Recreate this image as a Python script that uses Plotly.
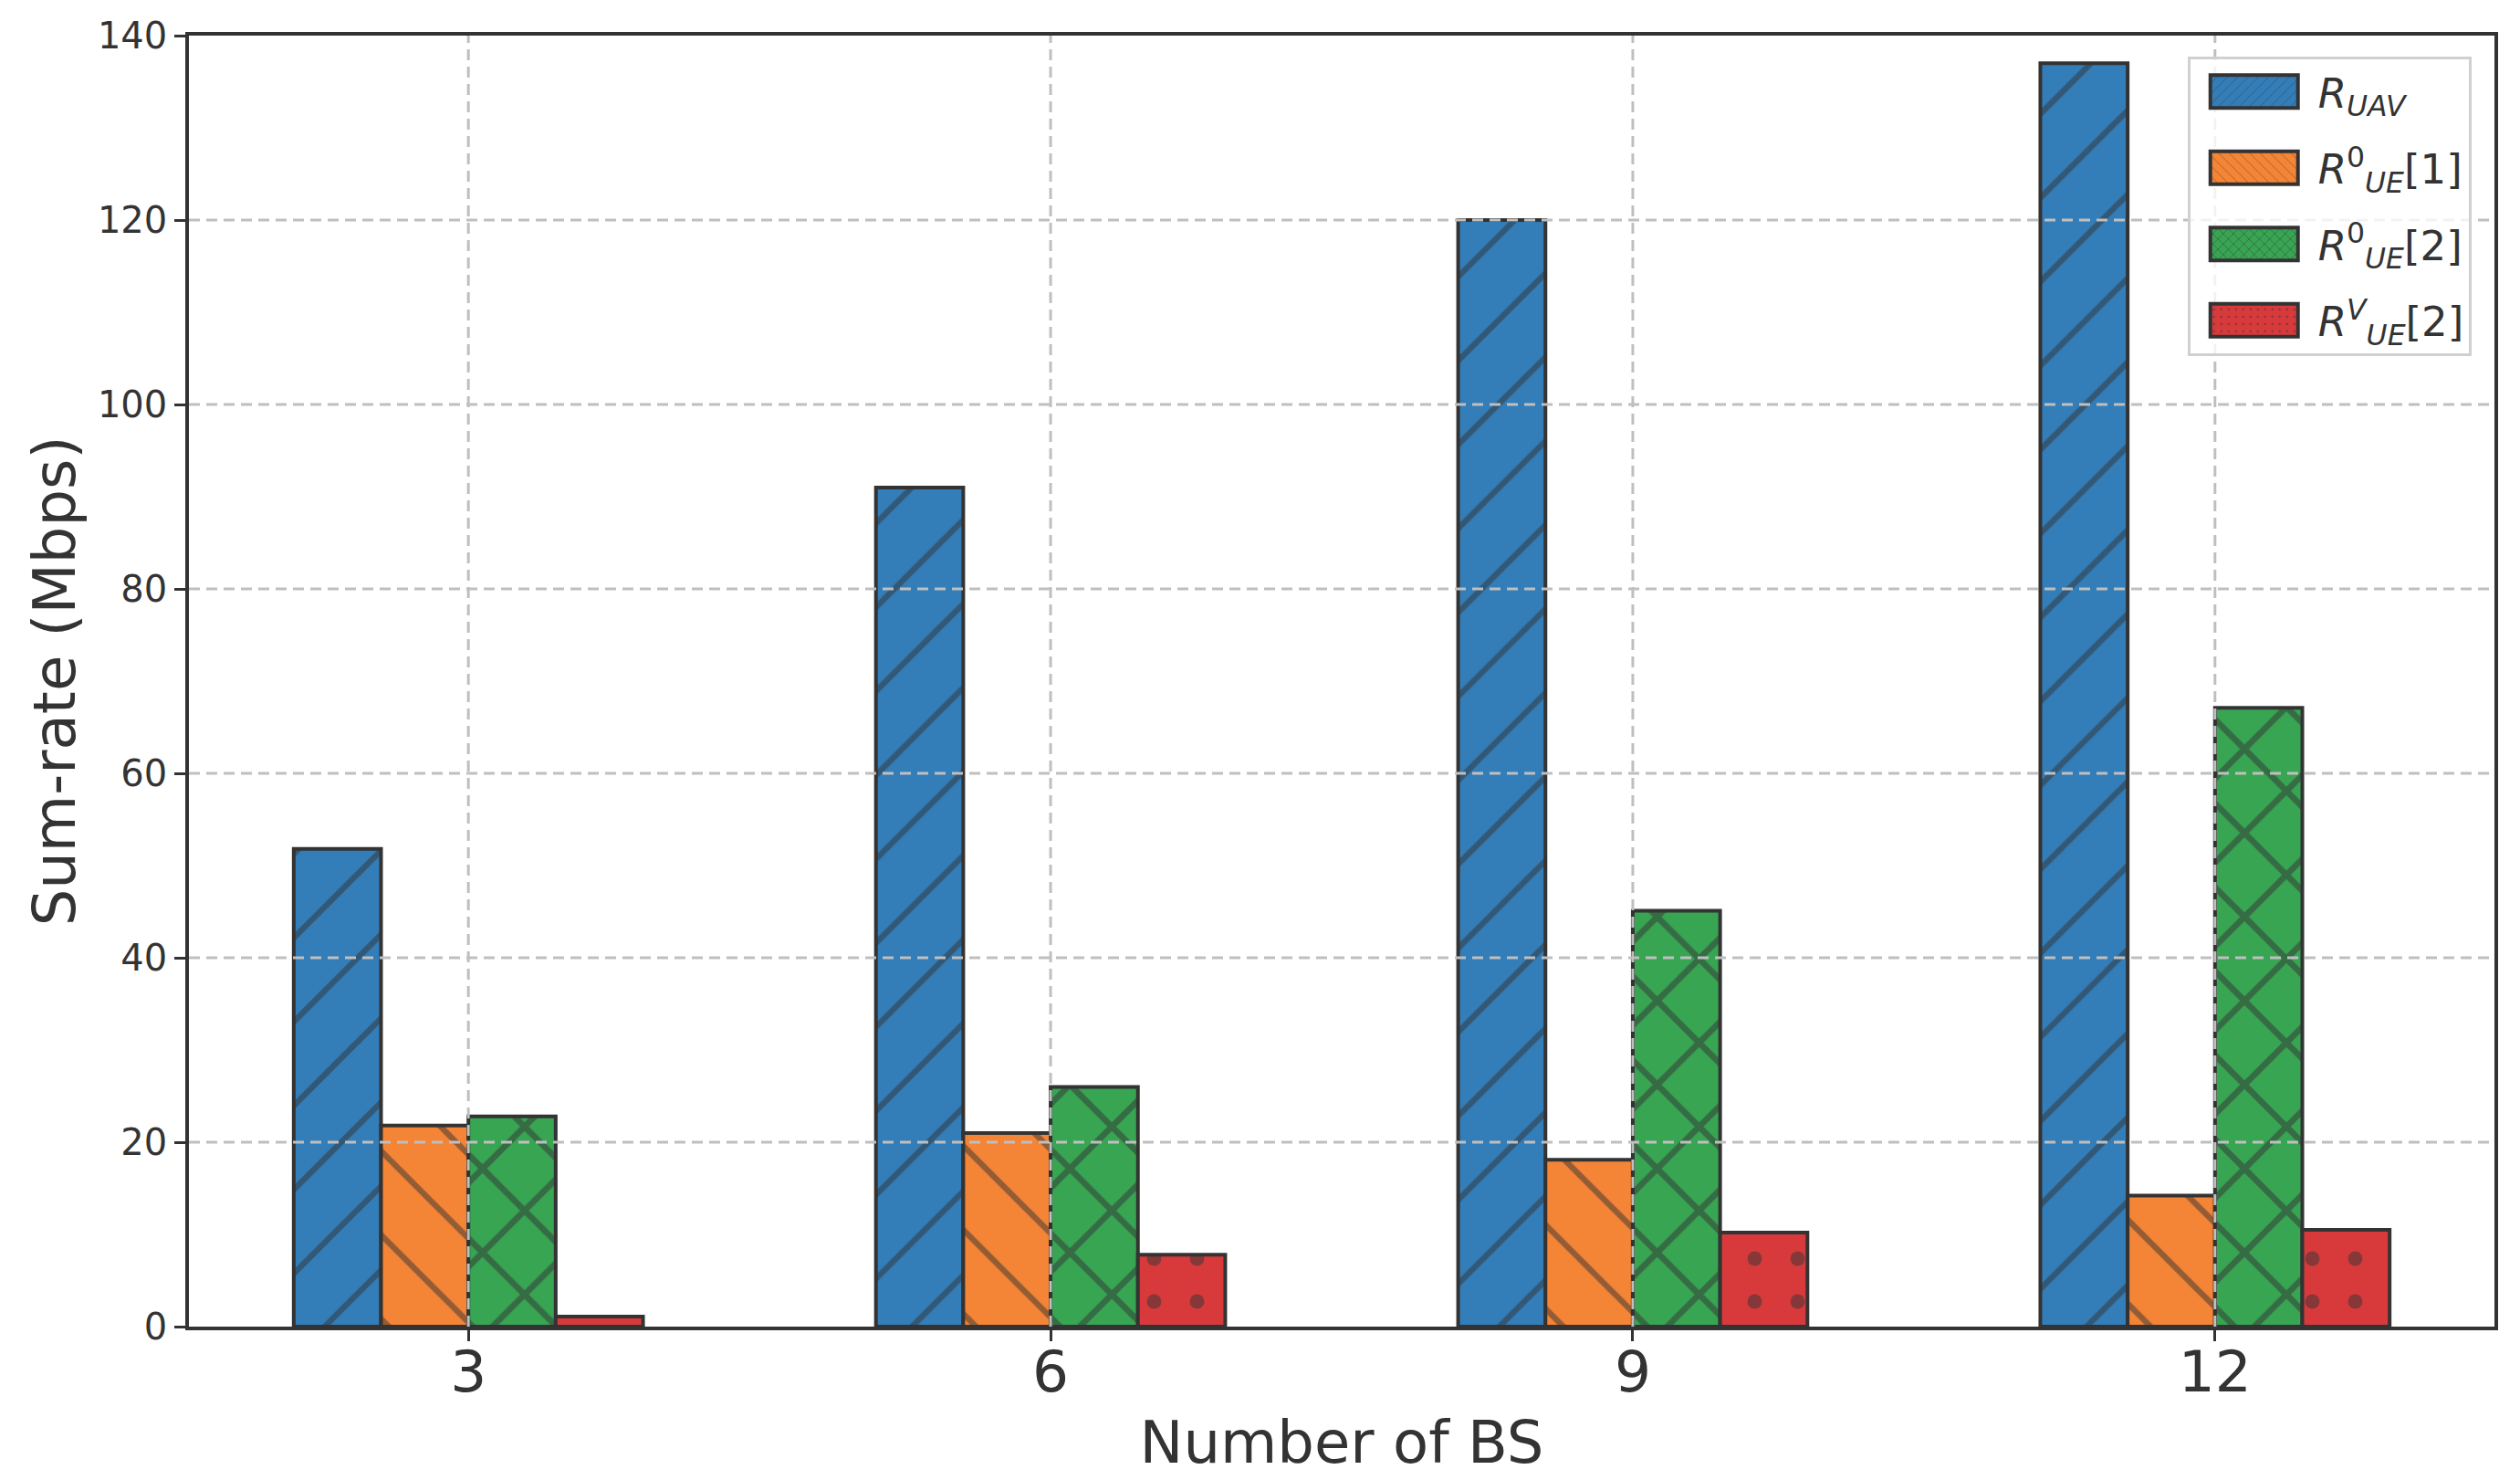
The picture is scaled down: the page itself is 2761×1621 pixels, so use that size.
import plotly.graph_objects as go

# ---- data ----
categories = ["3", "6", "9", "12"]
r_uav = [51.8, 91.0, 120.0, 137.0]
r_ue0_1 = [21.8, 21.0, 18.1, 14.2]
r_ue0_2 = [22.8, 26.0, 45.1, 67.1]
r_uev_2 = [1.1, 7.8, 10.2, 10.5]

series_names = [
    "<i>R</i><sub><i>UAV</i></sub>",
    "<i>R</i><sup>0</sup><sub><i>UE</i></sub>[1]",
    "<i>R</i><sup>0</sup><sub><i>UE</i></sub>[2]",
    "<i>R</i><sup><i>V</i></sup><sub><i>UE</i></sub>[2]",
]
series_values = [r_uav, r_ue0_1, r_ue0_2, r_uev_2]
y_ticks = [0, 20, 40, 60, 80, 100, 120, 140]

# ---- styles ----
colors = ["#337db8", "#f48436", "#38a553", "#d83a3c"]
patterns = [
    dict(shape="/", size=65, solidity=0.1),
    dict(shape="\\", size=65, solidity=0.1),
    dict(shape="x", size=65, solidity=0.2),
    dict(shape=".", size=47, solidity=0.09),
]
DARK = "#333333"
FONT = "DejaVu Sans"

xpos = list(range(len(categories)))

fig = go.Figure()
for i, (name, vals, col, pat) in enumerate(zip(series_names, series_values, colors, patterns)):
    fig.add_trace(go.Bar(
        x=xpos, y=vals, name=name, legendgroup=f"g{i}",
        marker=dict(
            color=col,
            line=dict(color=DARK, width=4),
            pattern=dict(fgcolor=DARK, fillmode="overlay", **pat),
        ),
    ))

# grid drawn above bars (as in reference)
for v in y_ticks[1:-1]:
    fig.add_hline(y=v, layer="above",
                  line=dict(color="#bfbfbf", width=3, dash="12px,7px"))
for p in xpos:
    fig.add_vline(x=p, layer="above",
                  line=dict(color="#bfbfbf", width=3, dash="12px,7px"))

fig.update_layout(
    width=2761, height=1621,
    margin=dict(l=207, r=28, t=39, b=168),
    plot_bgcolor="white", paper_bgcolor="white",
    barmode="group", bargap=0.4, bargroupgap=0,
    font=dict(family=FONT, color=DARK),
    showlegend=True,
    legend=dict(
        x=0.990, y=0.984, xanchor="right", yanchor="top",
        bgcolor="rgba(255,255,255,0.8)",
        bordercolor="#d0d0d0", borderwidth=3,
        font=dict(size=45, family=FONT, color=DARK),
        itemwidth=130,
        tracegroupgap=22,
    ),
)

fig.update_xaxes(
    range=[-0.48, 3.48], automargin=False,
    tickmode="array", tickvals=xpos, ticktext=categories,
    tickfont=dict(size=63, family=FONT, color=DARK),
    ticks="outside", ticklen=12, tickwidth=3, tickcolor=DARK,
    ticklabelstandoff=-20,
    showline=True, linecolor=DARK, linewidth=3.5, mirror=True,
    showgrid=False, zeroline=False,
    title=dict(text="Number of BS", font=dict(size=64, family=FONT, color=DARK),
               standoff=20),
)
fig.update_yaxes(
    range=[0, 140], automargin=False,
    tickmode="array", tickvals=y_ticks,
    tickfont=dict(size=40, family=FONT, color=DARK),
    ticks="outside", ticklen=12, tickwidth=3, tickcolor=DARK,
    showline=True, linecolor=DARK, linewidth=3.5, mirror=True,
    showgrid=False, zeroline=False,
    title=dict(text="Sum-rate (Mbps)", font=dict(size=64, family=FONT, color=DARK),
               standoff=4),
)

# enlarge the legend swatches into wide rectangles like the reference
post = """
document.body.style.margin='0';
document.body.style.overflow='hidden';
(function(){
  function fix(){
    var ps = document.querySelectorAll('g.legendpoints path');
    for (var i = 0; i < ps.length; i++) {
      var p = ps[i];
      if (p.getAttribute('d') !== 'M48,18H-48V-18H48Z') {
        p.setAttribute('d', 'M48,18H-48V-18H48Z');
      }
      p.style.strokeWidth = '4px';
    }
  }
  fix();
  var n = 0;
  var t = setInterval(function(){ fix(); n++; if (n > 60) clearInterval(t); }, 50);
  var gd = document.querySelector('.js-plotly-plot');
  if (gd && gd.on) { gd.on('plotly_afterplot', fix); }
})();
"""

fig.write_html(
    "out.html",
    config={"displayModeBar": False},
    post_script=post,
)
